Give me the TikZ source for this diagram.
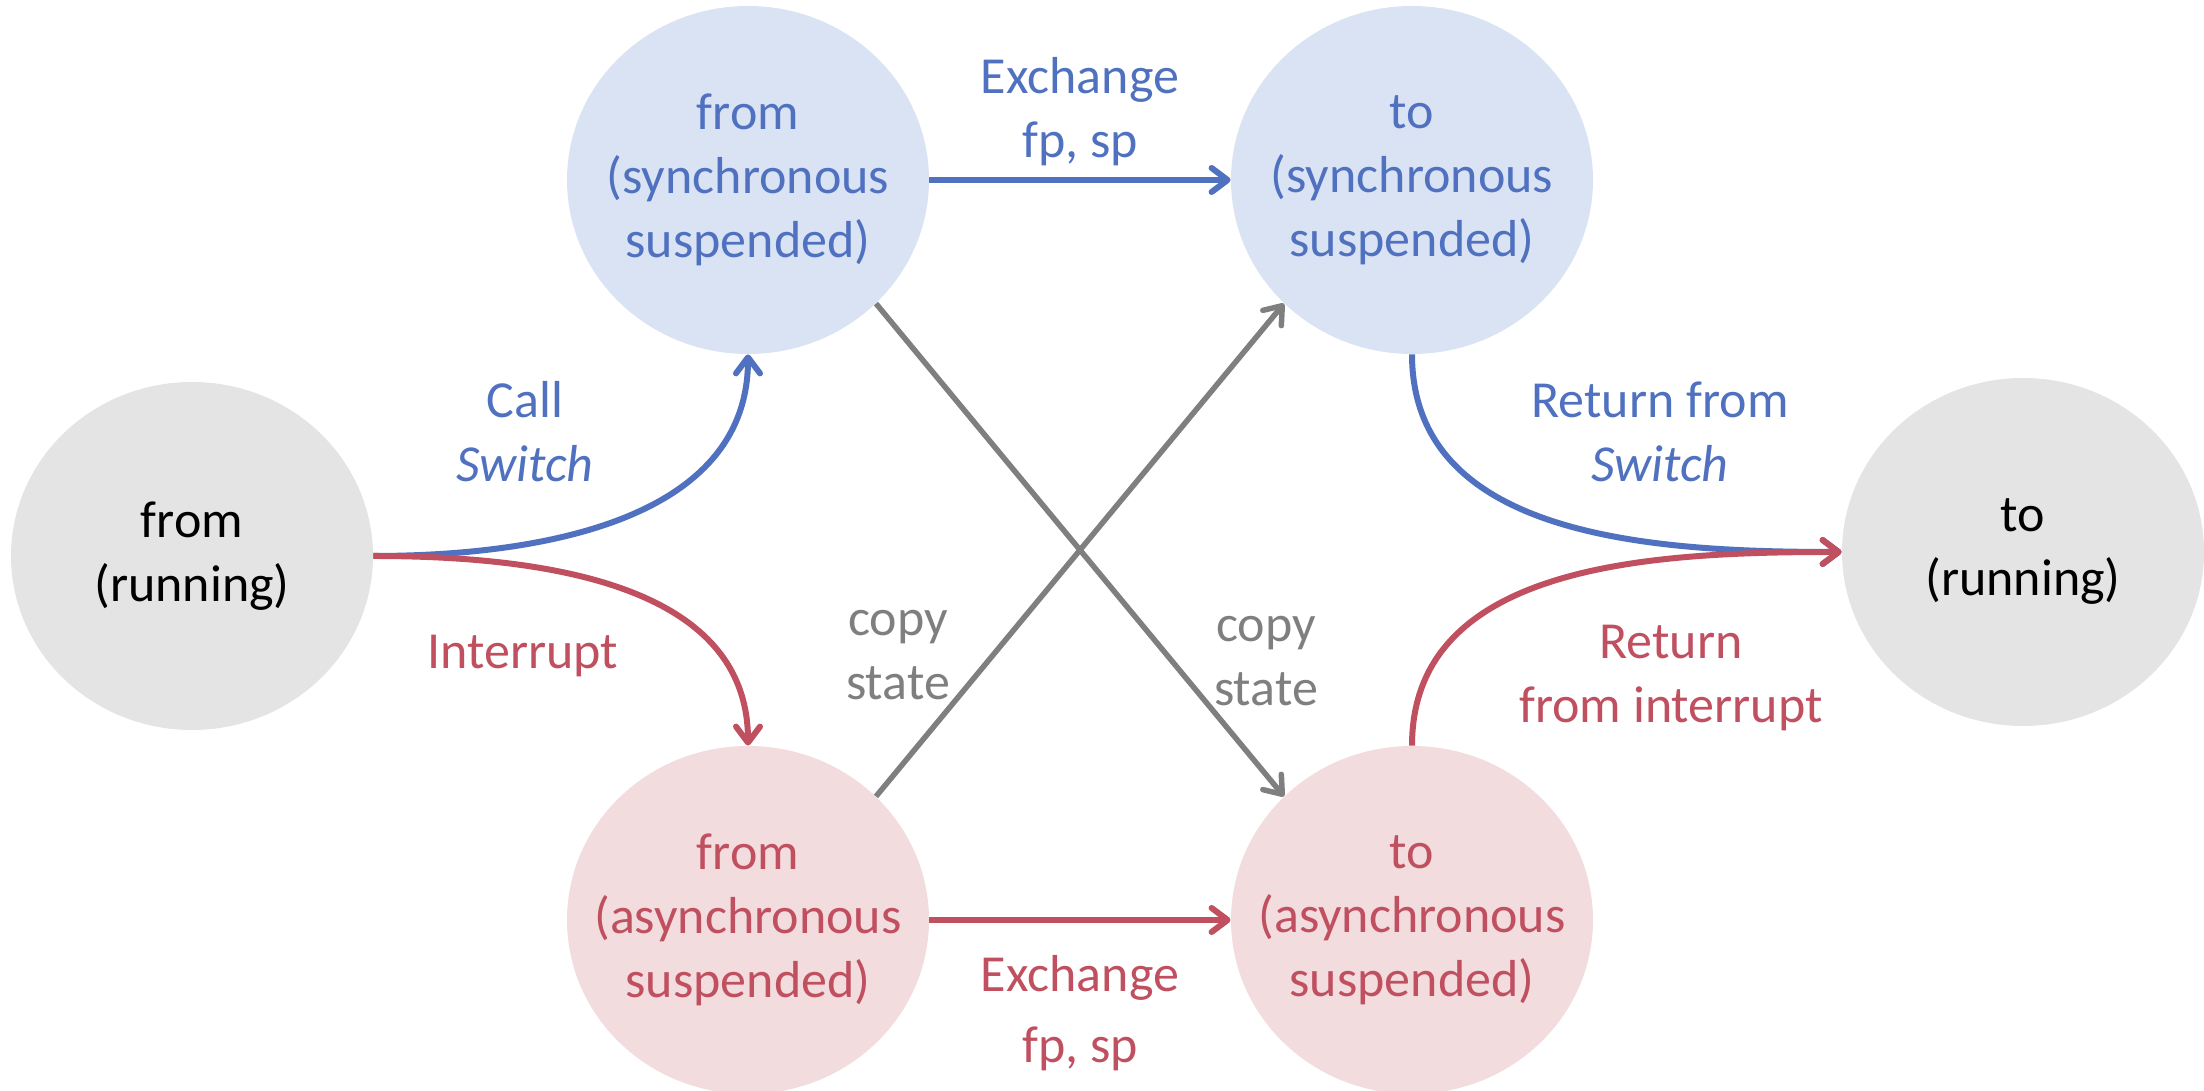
\documentclass[tikz,border=0pt]{standalone}
\usepackage{fontspec}
\setmainfont{Carlito}
\usetikzlibrary{arrows.meta,shapes.geometric}
\definecolor{syncblue}{HTML}{4F71BF}
\definecolor{asyncred}{HTML}{C05060}
\definecolor{copygray}{HTML}{7F7F7F}
\definecolor{syncfill}{HTML}{DAE3F3}
\definecolor{asyncfill}{HTML}{F2DCDE}
\definecolor{runfill}{HTML}{E4E4E4}
\newcommand{\stfont}{\fontsize{26}{32}\selectfont}
\tikzstyle{statestyle}=[shape=ellipse,minimum width=181pt,minimum height=174pt,inner xsep=-15pt,inner ysep=0pt,align=center,font=\stfont]
\tikzstyle{runstyle}=[style=statestyle,fill=runfill,text=black]
\tikzstyle{syncstyle}=[style=statestyle,fill=syncfill,text=syncblue]
\tikzstyle{asyncstyle}=[style=statestyle,fill=asyncfill,text=asyncred]
\tikzstyle{lblstyle}=[align=center,font=\stfont,inner sep=0pt]
\tikzstyle{edgestyle}=[line width=3pt,-{Straight Barb[length=8pt,width=12pt,line cap=round,line join=round]}]
\tikzstyle{copystyle}=[line width=2.75pt,copygray,-{Straight Barb[length=8pt,width=12pt,line cap=round,line join=round]}]

\begin{document}
\begin{tikzpicture}[x=0.5pt,y=0.5pt]
\useasboundingbox (0,0) rectangle (2204,1091);

\draw (192,535) node [style=runstyle] (fromrun) {from\\(running)}; %
\draw (748,911) node [style=syncstyle] (fromsync) {from\\(synchronous\\suspended)}; %
\draw (1412,911) node [style=syncstyle] (tosync) {to\\(synchronous\\suspended)}; %
\draw (2023,539) node [style=runstyle] (torun) {to\\(running)}; %
\draw (748,171) node [style=asyncstyle] (fromasync) {from\\(asynchronous\\suspended)}; %
\draw (1412,171) node [style=asyncstyle] (toasync) {to\\(asynchronous\\suspended)}; %

\draw [style=edgestyle,syncblue] (fromsync.east) -- (tosync.west); %
\draw [style=edgestyle,asyncred] (fromasync.east) -- (toasync.west); %
\draw [style=edgestyle,syncblue] (fromrun.east) to [out=0,in=-90] (fromsync.south); %
\draw [style=edgestyle,asyncred] (fromrun.east) to [out=0,in=90] (fromasync.north); %
\draw [style=edgestyle,syncblue] (tosync.south) to [out=-90,in=180] (torun.west); %
\draw [style=edgestyle,asyncred] (toasync.north) to [out=90,in=180] (torun.west); %
\draw [style=copystyle] (fromasync.44) -- (tosync.224); %
\draw [style=copystyle] (fromsync.-44) -- (toasync.136); %

\draw (1080,979) node [style=lblstyle,text=syncblue] (lblxsync) {Exchange\\fp, sp}; %
\draw (1080,78) node [style=lblstyle,text=asyncred] (lblxasync) {Exchange\\[3.5pt]fp, sp}; %
\draw (525,659) node [style=lblstyle,text=syncblue] (lblcall) {Call\\\textit{Switch}}; %
\draw (1660,659) node [style=lblstyle,text=syncblue] (lblret) {Return from\\\textit{Switch}}; %
\draw (523,435) node [style=lblstyle,text=asyncred] (lblint) {Interrupt}; %
\draw (1671,413) node [style=lblstyle,text=asyncred] (lblretint) {Return\\from interrupt}; %
\draw (898,436) node [style=lblstyle,text=copygray] (lblcopya) {copy\\state}; %
\draw (1266,430) node [style=lblstyle,text=copygray] (lblcopyb) {copy\\state}; %
\end{tikzpicture}
\end{document}
